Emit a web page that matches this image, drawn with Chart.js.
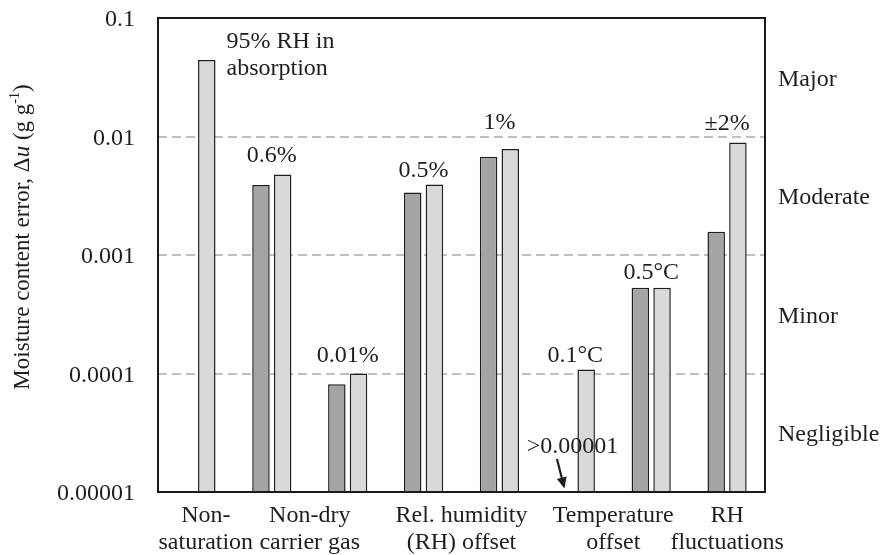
<!DOCTYPE html>
<html><head><meta charset="utf-8">
<script src="https://cdn.jsdelivr.net/npm/chart.js@4/dist/chart.umd.min.js"></script>
<style>html,body{margin:0;padding:0;background:#fff}canvas{display:block}</style>
</head><body>
<canvas id="c" width="883" height="555"></canvas>
<script>
// ---- data ----
const slots = ['Non-saturation 95% RH', 'Non-dry gas 0.6%', 'Non-dry gas 0.01%', 'RH offset 0.5%', 'RH offset 1%', 'Temperature offset 0.1°C', 'Temperature offset 0.5°C', 'RH fluctuations ±2%'];
const darkValues = [null, 0.0039, 0.000081, 0.00337, 0.00675, null, 0.00053, 0.00157];
const lightValues = [0.0442, 0.00479, 0.0001, 0.00393, 0.00783, 0.000108, 0.00053, 0.00891];
const barLabels = [['95% RH in', 'absorption'], ['0.6%'], ['0.01%'], ['0.5%'], ['1%'], ['0.1°C'], ['0.5°C'], ['±2%']];
const groupLabels = [['Non-', 'saturation'], ['Non-dry', 'carrier gas'], ['Rel. humidity', '(RH) offset'], ['Temperature', 'offset'], ['RH', 'fluctuations']];
const groupSlots = [0, 1.5, 3.5, 5.5, 7];
const yTickValues = [0.00001, 0.0001, 0.001, 0.01, 0.1];
const yTickLabels = ['0.00001', '0.0001', '0.001', '0.01', '0.1'];
const severityLabels = ['Negligible', 'Minor', 'Moderate', 'Major'];
const belowRangeNote = '>0.00001';
const belowRangeSlot = 5;
const yTitleParts = ['Moisture content error, Δ', 'u', ' (g g', '-1', ')'];

// ---- style ----
const FAM = "'Liberation Serif', 'Times New Roman', serif";
const TXT = '#1e1e1e';
const labelLift = [18, 19, 18, 14, 26, 14, 15, 19];
const groupNudge = [0.13, 0, 0, 0, 0];

const severityTicks = severityLabels.map((_, i) => Math.sqrt(yTickValues[i] * yTickValues[i + 1]));

function zeroPad(s) { s.paddingTop = 0; s.paddingBottom = 0; s.paddingLeft = 0; s.paddingRight = 0; }

const framePlugin = {
  id: 'frame',
  afterDatasetsDraw(chart) {
    const {ctx, chartArea: a} = chart;
    ctx.save();
    ctx.strokeStyle = '#1a1a1a';
    ctx.lineWidth = 2;
    ctx.strokeRect(a.left, a.top, a.right - a.left, a.bottom - a.top);
    ctx.restore();
  }
};

const labelPlugin = {
  id: 'barLabels',
  afterDraw(chart) {
    const {ctx, chartArea: a} = chart;
    const xs = chart.scales.x, ys = chart.scales.y;
    const metaD = chart.getDatasetMeta(0), metaL = chart.getDatasetMeta(1);
    ctx.save();
    ctx.fillStyle = TXT;
    ctx.font = `24px ${FAM}`;
    ctx.textBaseline = 'middle';
    barLabels.forEach((lines, i) => {
      const vals = [darkValues[i], lightValues[i]].filter(v => v != null);
      const top = ys.getPixelForValue(Math.max(...vals));
      const yc = top - labelLift[i];
      if (lines.length > 1) {
        const el = metaL.data[i];
        ctx.textAlign = 'left';
        lines.forEach((t, k) => ctx.fillText(t, el.x + el.width / 2 + 11, yc + k * 27));
      } else {
        ctx.textAlign = 'center';
        ctx.fillText(lines[0], xs.getPixelForValue(i), yc);
      }
    });
    // below-range note with arrow
    const off = metaD.data[1].x - xs.getPixelForValue(1);
    const dx = xs.getPixelForValue(belowRangeSlot) + off;
    const b = a.bottom;
    ctx.textAlign = 'center';
    ctx.fillText(belowRangeNote, dx + 8, b - 45);
    const x0 = dx - 7.5, y0 = b - 33, x1 = dx, y1 = b - 3.5;
    const ang = Math.atan2(y1 - y0, x1 - x0);
    ctx.strokeStyle = '#1e1e1e';
    ctx.lineWidth = 2.2;
    ctx.beginPath();
    ctx.moveTo(x0, y0);
    ctx.lineTo(x1 - 9 * Math.cos(ang), y1 - 9 * Math.sin(ang));
    ctx.stroke();
    ctx.beginPath();
    ctx.moveTo(x1, y1);
    ctx.lineTo(x1 - 11 * Math.cos(ang) + 5 * Math.sin(ang), y1 - 11 * Math.sin(ang) - 5 * Math.cos(ang));
    ctx.lineTo(x1 - 11 * Math.cos(ang) - 5 * Math.sin(ang), y1 - 11 * Math.sin(ang) + 5 * Math.cos(ang));
    ctx.closePath();
    ctx.fillStyle = '#1e1e1e';
    ctx.fill();
    // y-axis title with italic u and superscript
    ctx.fillStyle = TXT;
    const fonts = [`23px ${FAM}`, `italic 23px ${FAM}`, `23px ${FAM}`, `14px ${FAM}`, `23px ${FAM}`];
    const shifts = [0, 0, 0, -8, 0];
    let total = 0;
    const widths = yTitleParts.map((t, k) => { ctx.font = fonts[k]; const w = ctx.measureText(t).width; total += w; return w; });
    ctx.translate(23, 237);
    ctx.rotate(-Math.PI / 2);
    ctx.textAlign = 'left';
    let px = -total / 2;
    yTitleParts.forEach((t, k) => {
      ctx.font = fonts[k];
      ctx.fillText(t, px, shifts[k]);
      px += widths[k];
    });
    ctx.restore();
  }
};

new Chart(document.getElementById('c'), {
  type: 'bar',
  data: {
    labels: slots,
    datasets: [
      {label: 'dark', data: darkValues, backgroundColor: '#a4a4a4', borderColor: '#1f1f1f', borderWidth: 1.5, categoryPercentage: 0.572, barPercentage: 0.806},
      {label: 'light', data: lightValues, backgroundColor: '#d9d9d9', borderColor: '#1f1f1f', borderWidth: 1.5, categoryPercentage: 0.572, barPercentage: 0.806}
    ]
  },
  options: {
    responsive: false,
    animation: false,
    devicePixelRatio: 1,
    layout: {padding: {top: 18, left: 0, right: 0, bottom: 0}},
    plugins: {legend: {display: false}, tooltip: {enabled: false}},
    scales: {
      x: {
        type: 'category', position: 'bottom',
        grid: {display: false, drawTicks: false}, border: {display: false},
        ticks: {display: false},
        afterFit(s) { s.height = 0; zeroPad(s); }
      },
      xg: {
        type: 'linear', position: 'bottom', min: -0.5, max: 7.5, bounds: 'data', offset: false,
        grid: {display: false, drawTicks: false, offset: false}, border: {display: false},
        afterDataLimits(s) { s.min = -0.5; s.max = 7.5; },
        afterBuildTicks(s) { s.ticks = groupSlots.map((v, i) => ({value: v + groupNudge[i]})); s.min = -0.5; s.max = 7.5; },
        ticks: {autoSkip: false, maxRotation: 0, padding: 10, color: TXT,
          font: {family: FAM, size: 24, lineHeight: 1.125},
          callback: (v, i) => groupLabels[i]},
        afterFit(s) { s.height = 63; zeroPad(s); }
      },
      y: {
        type: 'logarithmic', position: 'left', min: 0.00001, max: 0.1,
        afterBuildTicks(s) { s.ticks = yTickValues.map(v => ({value: v})); },
        grid: {color: c => (c.index === 0 || c.index === yTickValues.length - 1) ? 'rgba(0,0,0,0)' : '#c0c0c0', lineWidth: 2, drawTicks: false},
        border: {display: false, dash: [9, 5]},
        ticks: {padding: 23, labelOffset: 2, color: TXT, font: {family: FAM, size: 24}, callback: (v, i) => yTickLabels[i]},
        afterFit(s) { s.width = 158; zeroPad(s); }
      },
      ySev: {
        type: 'logarithmic', position: 'right', min: 0.00001, max: 0.1,
        afterBuildTicks(s) { s.ticks = severityTicks.map(v => ({value: v})); },
        grid: {display: false, drawTicks: false}, border: {display: false},
        ticks: {padding: 13, labelOffset: 2, color: TXT, font: {family: FAM, size: 24}, callback: (v, i) => severityLabels[i]},
        afterFit(s) { s.width = 118; zeroPad(s); }
      }
    }
  },
  plugins: [framePlugin, labelPlugin]
});
</script>
</body></html>
